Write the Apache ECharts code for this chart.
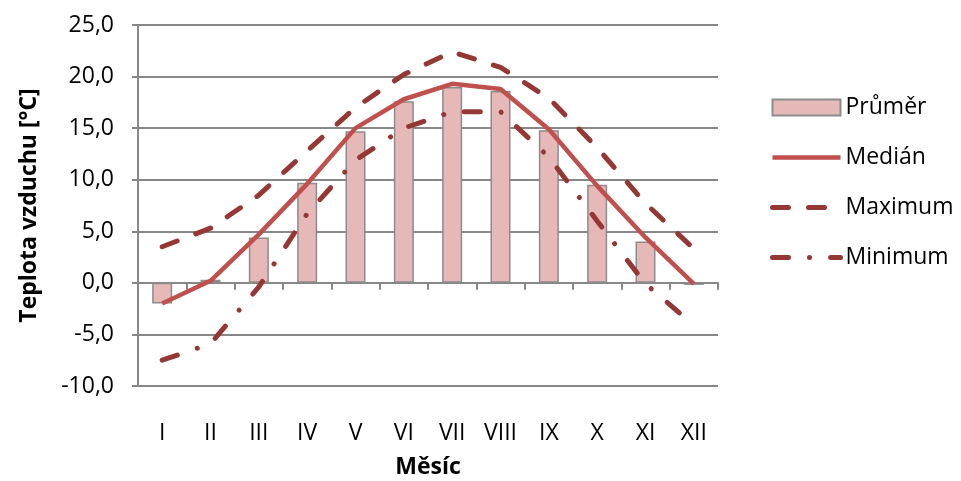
<!DOCTYPE html>
<html>
<head>
<meta charset="utf-8">
<script src="https://cdn.jsdelivr.net/npm/echarts@6/dist/echarts.min.js"></script>
<style>
  html, body { margin: 0; padding: 0; background: #fff; }
  #chart { width: 961px; height: 481px; }
</style>
</head>
<body>
<div id="chart"></div>
<script>
// měsíce a hodnoty teploty
var months = ['I', 'II', 'III', 'IV', 'V', 'VI', 'VII', 'VIII', 'IX', 'X', 'XI', 'XII'];
var prumer = [-2.0, 0.3, 4.4, 9.7, 14.7, 17.6, 19.0, 18.6, 14.8, 9.5, 4.0, -0.2];
var median = [-2.0, 0.2, 4.7, 9.6, 15.0, 17.8, 19.3, 18.8, 14.9, 9.4, 4.4, -0.1];
var maximum = [3.5, 5.3, 8.5, 12.8, 17.0, 20.2, 22.4, 20.9, 17.9, 13.1, 7.7, 3.3];
var minimum = [-7.5, -5.9, -0.4, 6.7, 11.9, 15.0, 16.6, 16.6, 12.2, 6.0, -0.1, -4.1];

var font = 'Open Sans';
var gray = '#878787';
var fs = 23;

var myChart = echarts.init(document.getElementById('chart'));

// v legendě jen čára, bez kolečka
var noDot = { color: 'rgba(0,0,0,0)', borderColor: 'rgba(0,0,0,0)', borderWidth: 0 };

myChart.setOption({
  animation: false,
  textStyle: { fontFamily: font, color: '#000' },
  grid: { left: 138, right: 243, top: 25, bottom: 95, outerBoundsMode: 'none' },
  legend: {
    orient: 'vertical',
    left: 765,
    top: 91,
    itemWidth: 68,
    itemHeight: 16,
    itemGap: 27,
    lineStyle: { width: 'inherit' },
    textStyle: { fontSize: fs, color: '#000', fontFamily: font },
    data: [
      { name: 'Průměr', icon: 'rect' },
      { name: 'Medián', itemStyle: noDot },
      { name: 'Maximum', itemStyle: noDot },
      { name: 'Minimum', itemStyle: noDot }
    ]
  },
  xAxis: [
    {
      // osa na nule, jen čára a značky
      type: 'category',
      data: months,
      axisLine: { onZero: true, lineStyle: { color: gray, width: 2 } },
      axisTick: { show: true, length: 7, lineStyle: { color: gray, width: 2 } },
      axisLabel: { show: false }
    },
    {
      // popisky dole
      type: 'category',
      data: months,
      position: 'bottom',
      axisLine: { show: false, onZero: false },
      axisTick: { show: false },
      axisLabel: { margin: 36, fontSize: fs, color: '#000', fontFamily: font },
      name: 'Měsíc',
      nameLocation: 'middle',
      nameGap: 70,
      nameTextStyle: { fontSize: fs, fontWeight: 'bold', color: '#000', fontFamily: font }
    }
  ],
  yAxis: {
    type: 'value',
    min: -10,
    max: 25,
    interval: 5,
    axisLine: { show: true, lineStyle: { color: gray, width: 2 } },
    axisTick: { show: true, length: 6, lineStyle: { color: gray, width: 2 } },
    splitLine: { lineStyle: { color: gray, width: 2 } },
    axisLabel: {
      margin: 24,
      fontSize: fs,
      color: '#000',
      fontFamily: font,
      formatter: function (v) { return v.toFixed(1).replace('.', ','); }
    },
    name: 'Teplota vzduchu [°C]',
    nameLocation: 'middle',
    nameGap: 97,
    nameTextStyle: { fontSize: fs, fontWeight: 'bold', color: '#000', fontFamily: font }
  },
  series: [
    {
      name: 'Průměr',
      type: 'bar',
      data: prumer,
      barWidth: 20,
      itemStyle: { color: '#e6b9b8', borderColor: '#8c8c8c', borderWidth: 1.5 }
    },
    {
      name: 'Medián',
      type: 'line',
      data: median,
      symbol: 'none',
      lineStyle: { color: '#c0504d', width: 4.5 },
      itemStyle: { color: '#c0504d' }
    },
    {
      name: 'Maximum',
      type: 'line',
      data: maximum,
      symbol: 'none',
      lineStyle: { color: '#953735', width: 5, type: [16, 20], cap: 'round' },
      itemStyle: { color: '#953735' }
    },
    {
      name: 'Minimum',
      type: 'line',
      data: minimum,
      symbol: 'none',
      lineStyle: { color: '#953735', width: 5, type: [16, 21, 0.1, 21], cap: 'round' },
      itemStyle: { color: '#953735' }
    }
  ]
});
</script>
</body>
</html>
